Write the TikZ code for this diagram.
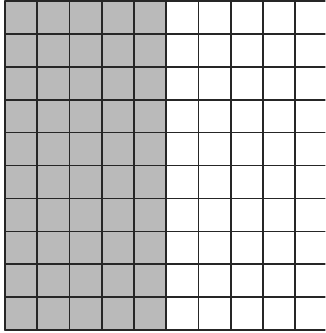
\documentclass[tikz,border=0pt]{standalone}
\usepackage{tikz}

\begin{document}
\begin{tikzpicture}[x=0.98cm, y=1cm, line cap=round, line join=round,
    shaded/.style={fill=black!27},
    gridline/.style={line width=1.4pt, black!85}]
  % page size and margins as in the reference (the right edge is cut off)
  \useasboundingbox (-0.155,-0.09) rectangle (9.938,10.03);
  \clip (-0.155,-0.09) rectangle (9.938,10.03);

  % left half of the square shaded
  \fill[shaded] (0,0) rectangle (5,10);

  % the 10 by 10 grid
  \foreach \i in {0,...,10} {
    \draw[gridline] (\i,0) -- (\i,10);
    \draw[gridline] (0,\i) -- (10,\i);
  }
\end{tikzpicture}
\end{document}
